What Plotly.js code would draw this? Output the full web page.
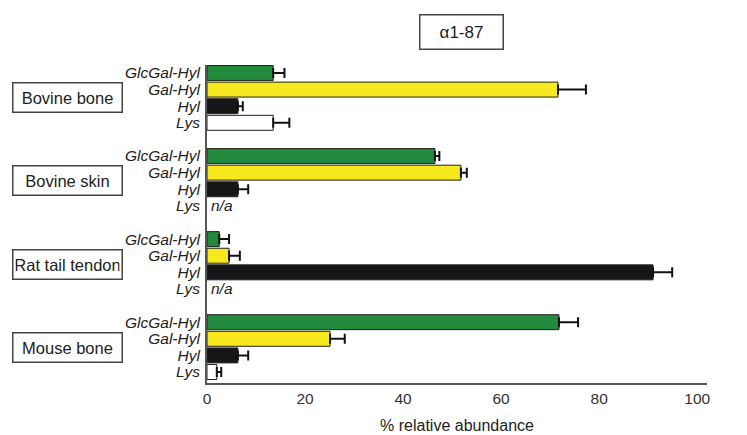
<!DOCTYPE html>
<html>
<head>
<meta charset="utf-8">
<script src="https://cdn.plot.ly/plotly-3.0.1.min.js"></script>
<style>html,body{margin:0;padding:0;background:#fff;}#chart{width:747px;height:435px;}</style>
</head>
<body>
<div id="chart"></div>
<script>
// ---- data ----
const groups = ['Bovine bone', 'Bovine skin', 'Rat tail tendon', 'Mouse bone'];
const residues = ['GlcGal-Hyl', 'Gal-Hyl', 'Hyl', 'Lys'];
const glcGalHyl = [13.5, 46.5, 2.5, 71.8];
const glcGalHylErr = [2.3, 0.9, 2.0, 3.9];
const galHyl = [71.6, 51.8, 4.5, 25.1];
const galHylErr = [5.7, 1.2, 2.2, 3.0];
const hyl = [6.3, 6.3, 91.0, 6.3];
const hylErr = [1.0, 2.1, 3.9, 2.1];
const lys = [13.5, null, null, 2.0];
const lysErr = [3.3, null, null, 0.9];
const xTicks = [0, 20, 40, 60, 80, 100];
const chartTitle = 'α1-87';
const xTitle = '% relative abundance';
const naLabel = 'n/a';

// ---- layout helpers ----
const slot = residues.length + 1;
const pos = (g, k) => g * slot + k;
const series = [
  {vals: glcGalHyl, err: glcGalHylErr, color: '#228a3c'},
  {vals: galHyl, err: galHylErr, color: '#f6ea1e'},
  {vals: hyl, err: hylErr, color: '#161616'},
  {vals: lys, err: lysErr, color: '#ffffff'}
];
const FONT = 'Liberation Sans, Arial, Helvetica, sans-serif';

const traces = series.map((s, k) => ({
  type: 'bar',
  orientation: 'h',
  x: s.vals,
  y: groups.map((_, g) => pos(g, k)),
  width: 0.9,
  marker: {color: s.color, line: {color: '#222', width: 1}},
  error_x: {
    type: 'data', symmetric: false,
    array: s.err.map(e => e == null ? 0 : e),
    arrayminus: s.err.map(() => 0),
    color: '#111', thickness: 2, width: 5
  },
  hoverinfo: 'x',
  showlegend: false
}));

const tickvals = [], ticktext = [];
groups.forEach((_, g) => residues.forEach((r, k) => { tickvals.push(pos(g, k)); ticktext.push(r); }));

const annotations = [];
groups.forEach((name, g) => {
  annotations.push({
    xref: 'paper', yref: 'y', x: -0.28, y: pos(g, 1.5),
    text: name, showarrow: false,
    font: {family: FONT, size: 16.5, color: '#222'},
    bordercolor: '#444', borderwidth: 1.5, borderpad: 2,
    width: 104, height: 24, bgcolor: '#fff', xanchor: 'center', yanchor: 'middle'
  });
});
series[3].vals.forEach((v, g) => {
  if (v == null) {
    annotations.push({
      xref: 'x', yref: 'y', x: 0, y: pos(g, 3), xanchor: 'left', xshift: 2,
      text: naLabel, showarrow: false,
      font: {family: FONT, size: 15.5, color: '#222', style: 'italic'}
    });
  }
});
annotations.push({
  xref: 'paper', yref: 'paper', x: 0.508, y: 1.104,
  text: chartTitle, showarrow: false,
  font: {family: FONT, size: 17, color: '#222'},
  bordercolor: '#444', borderwidth: 1.5, borderpad: 3,
  width: 76, height: 27, xanchor: 'center', yanchor: 'middle'
});

const layout = {
  width: 747, height: 435,
  margin: {l: 207, r: 40, t: 65, b: 52},
  paper_bgcolor: '#fff', plot_bgcolor: '#fff',
  barmode: 'overlay',
  xaxis: {
    range: [0, 102], tickvals: xTicks, ticks: '', showgrid: false, zeroline: false,
    showline: true, linecolor: '#555', linewidth: 2,
    tickfont: {family: FONT, size: 15.5, color: '#333'},
    title: {text: xTitle, font: {family: FONT, size: 16, color: '#222'}, standoff: 14}
  },
  yaxis: {
    range: [18.66, -0.48], tickvals: tickvals, ticktext: ticktext, ticks: '',
    showgrid: false, zeroline: false, showline: true, linecolor: '#555', linewidth: 2,
    tickfont: {family: FONT, size: 15.5, color: '#222', style: 'italic'},
    ticklabelstandoff: 2
  },
  annotations: annotations
};

Plotly.newPlot('chart', traces, layout, {displayModeBar: false, staticPlot: true});
</script>
</body>
</html>
